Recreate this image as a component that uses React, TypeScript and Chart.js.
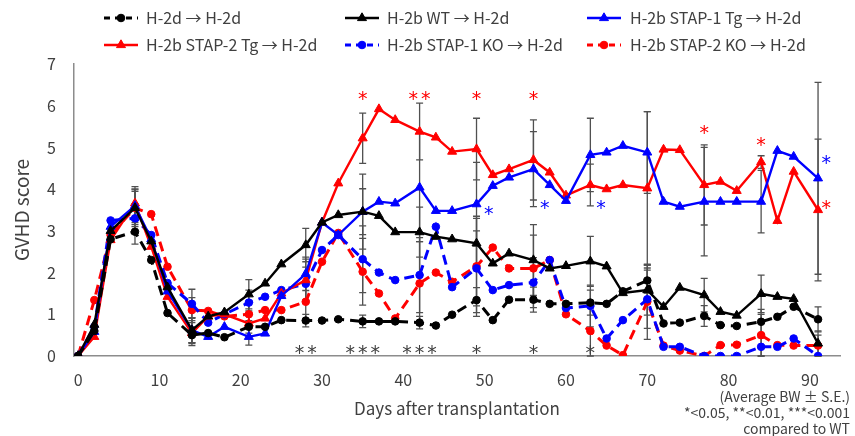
import React, { useEffect, useRef } from 'react';
import { Chart, registerables } from 'chart.js';

Chart.register(...registerables);

// ---- data ----
const DAYS = [0, 2, 4, 7, 9, 11, 14, 16, 18, 21, 23, 25, 28, 30, 32, 35, 37, 39, 42, 44, 46, 49, 51, 53, 56, 58, 60, 63, 65, 67, 70, 72, 74, 77, 79, 81, 84, 86, 88, 91];

const H2D = [0, 0.6, 2.8, 2.98, 2.3, 1.03, 0.5, 0.55, 0.45, 0.7, 0.7, 0.86, 0.85, 0.85, 0.88, 0.83, 0.83, 0.83, 0.8, 0.73, 0.99, 1.34, 0.86, 1.35, 1.35, 1.25, 1.25, 1.28, 1.25, 1.55, 1.81, 0.78, 0.8, 0.96, 0.74, 0.72, 0.82, 0.94, 1.18, 0.88];
const WT = [0, 0.75, 3.0, 3.55, 2.75, 1.65, 0.62, 0.95, 1.05, 1.48, 1.74, 2.2, 2.66, 3.2, 3.38, 3.46, 3.36, 2.97, 2.97, 2.86, 2.8, 2.7, 2.22, 2.46, 2.3, 2.1, 2.16, 2.27, 2.15, 1.51, 1.58, 1.18, 1.64, 1.46, 1.06, 0.97, 1.49, 1.42, 1.37, 0.3];
const TG1 = [0, 0.58, 3.1, 3.6, 2.8, 1.55, 0.62, 0.46, 0.7, 0.46, 0.54, 1.44, 1.97, 3.2, 2.9, 3.46, 3.7, 3.66, 4.04, 3.48, 3.48, 3.64, 4.08, 4.28, 4.48, 4.1, 3.72, 4.82, 4.88, 5.04, 4.88, 3.7, 3.58, 3.7, 3.7, 3.7, 3.7, 4.92, 4.78, 4.26];
const TG2 = [0, 0.46, 2.78, 3.66, 2.62, 1.42, 0.55, 0.95, 1.0, 0.78, 0.9, 1.5, 1.82, 3.2, 4.14, 5.22, 5.92, 5.66, 5.38, 5.24, 4.9, 4.96, 4.34, 4.48, 4.7, 4.4, 3.85, 4.1, 4.0, 4.1, 4.02, 4.95, 4.94, 4.1, 4.18, 3.96, 4.65, 3.24, 4.42, 3.5];
const KO1 = [0, 0.7, 3.25, 3.3, 2.9, 1.75, 1.25, 0.8, 1.0, 1.28, 1.42, 1.58, 1.73, 2.54, 2.9, 2.32, 2.0, 1.82, 1.94, 3.1, 1.65, 2.1, 1.58, 1.7, 1.76, 2.3, 1.15, 1.2, 0.42, 0.86, 1.36, 0.22, 0.22, 0, 0, 0, 0.22, 0.22, 0.42, 0];
const KO2 = [0, 1.34, 2.9, 3.55, 3.4, 2.14, 1.1, 1.08, 0.95, 1.0, 1.1, 1.1, 1.3, 2.26, 2.95, 2.02, 1.5, 0.9, 1.74, 2.0, 1.78, 2.15, 2.6, 2.1, 2.1, 2.3, 1.0, 0.6, 0.25, 0.02, 1.3, 0.25, 0.13, 0, 0.26, 0.27, 0.5, 0.26, 0.25, 0.25];

// standard errors at the weekly time points
const WEEK_DAYS = [7, 14, 21, 28, 35, 42, 49, 56, 63, 70, 77, 84, 91];
const H2D_SE = [0.3, 0.2, 0.15, 0.15, 0.15, 0.15, 0.3, 0.3, 0.3, 0.3, 0.25, 0.3, 0.3];
const WT_SE = [0.45, 0.3, 0.35, 0.4, 0.55, 0.6, 0.6, 0.85, 0.6, 0.6, 0.4, 0.45, 0.3];
const TG1_SE = [0.4, 0.3, 0.2, 0.4, 0.9, 1.3, 1.0, 0.9, 0.88, 0.98, 1.3, 0.75, 2.3];
const TG2_SE = [0.4, 0.3, 0.3, 0.5, 0.6, 0.68, 0.74, 0.96, 0.5, 1.84, 0.96, 0.15, 1.7];
const KO1_SE = [0.35, 0.35, 0.3, 0.4, 0.8, 0.9, 0.9, 0.6, 0.5, 0.7, 0, 0.22, 0];
const KO2_SE = [0.4, 0.3, 0.3, 0.5, 0.8, 1.0, 1.2, 0.8, 0.6, 0.9, 0, 0.5, 0.25];

const LABELS = [
  'H-2d → H-2d',
  'H-2b WT → H-2d',
  'H-2b STAP-1 Tg → H-2d',
  'H-2b STAP-2 Tg → H-2d',
  'H-2b STAP-1 KO → H-2d',
  'H-2b STAP-2 KO → H-2d',
];

// significance marks
const SIG_WT_DAYS = [28, 35, 42, 49, 56, 63];
const SIG_WT_TEXT = ['**', '***', '***', '*', '*', '*'];
const SIG_RED_DAYS = [35, 42, 49, 56, 77, 84, 92];
const SIG_RED_Y = [6.25, 6.25, 6.25, 6.25, 5.42, 5.14, 3.64];
const SIG_RED_TEXT = ['*', '**', '*', '*', '*', '*', '*'];
const SIG_BLUE_DAYS = [50.5, 57.4, 64.3, 92];
const SIG_BLUE_Y = [3.5, 3.62, 3.62, 4.7];

const X_TICKS = [0, 10, 20, 30, 40, 50, 60, 70, 80, 90];
const NOTES = ['(Average BW ± S.E.)', '*<0.05, **<0.01, ***<0.001', 'compared to WT'];

// ---- styling ----
const FONT = '"Noto Sans CJK JP", "Noto Sans", sans-serif';
const TEXT = '#404040';
const BLACK = '#000000';
const RED = 'rgb(255,0,0)';
const BLUE = 'rgb(0,0,255)';

const STYLES = [
  { color: BLACK, dashed: true, marker: 'circle' },
  { color: BLACK, dashed: false, marker: 'triangle' },
  { color: BLUE, dashed: false, marker: 'triangle' },
  { color: RED, dashed: false, marker: 'triangle' },
  { color: BLUE, dashed: true, marker: 'circle' },
  { color: RED, dashed: true, marker: 'circle' },
];
const VALUES = [H2D, WT, TG1, TG2, KO1, KO2];
const SES = [H2D_SE, WT_SE, TG1_SE, TG2_SE, KO1_SE, KO2_SE];

function drawMarker(ctx: CanvasRenderingContext2D, kind: string, x: number, y: number, color: string) {
  ctx.save();
  ctx.setLineDash([]);
  ctx.fillStyle = color;
  ctx.strokeStyle = color;
  ctx.lineWidth = 1;
  ctx.beginPath();
  if (kind === 'triangle') {
    const r = 5.2;
    let a = 0;
    ctx.moveTo(x + Math.sin(a) * r, y - Math.cos(a) * r);
    a += (2 * Math.PI) / 3;
    ctx.lineTo(x + Math.sin(a) * r, y - Math.cos(a) * r);
    a += (2 * Math.PI) / 3;
    ctx.lineTo(x + Math.sin(a) * r, y - Math.cos(a) * r);
    ctx.closePath();
  } else {
    ctx.arc(x, y, 3.8, 0, Math.PI * 2);
  }
  ctx.fill();
  ctx.stroke();
  ctx.restore();
}

const errorBarPlugin = {
  id: 'errorBars',
  beforeDatasetsDraw(chart: any) {
    const { ctx, scales } = chart;
    const x = scales.x, y = scales.y;
    ctx.save();
    ctx.strokeStyle = '#505050';
    ctx.lineWidth = 1.3;
    SES.forEach((se, s) => {
      WEEK_DAYS.forEach((d, i) => {
        const e = se[i];
        if (!e) return;
        const v = VALUES[s][DAYS.indexOf(d)];
        const px = x.getPixelForValue(d);
        const top = y.getPixelForValue(v + e);
        const bot = y.getPixelForValue(Math.max(0, v - e));
        ctx.beginPath();
        ctx.moveTo(px, top);
        ctx.lineTo(px, bot);
        ctx.moveTo(px - 3.5, top);
        ctx.lineTo(px + 3.5, top);
        ctx.moveTo(px - 3.5, bot);
        ctx.lineTo(px + 3.5, bot);
        ctx.stroke();
      });
    });
    ctx.restore();
  },
};

function drawStars(ctx: CanvasRenderingContext2D, text: string, cx: number, cy: number, color: string) {
  const size = 19;
  const gap = 12.5;
  ctx.save();
  ctx.fillStyle = color;
  ctx.font = `${size}px "DejaVu Sans", sans-serif`;
  ctx.textAlign = 'center';
  ctx.textBaseline = 'alphabetic';
  const n = text.length;
  for (let k = 0; k < n; k++) {
    const px = cx + (k - (n - 1) / 2) * gap;
    ctx.fillText(text[k], px, cy + size * 0.5);
  }
  ctx.restore();
}

const annotationPlugin = {
  id: 'annotations',
  afterDatasetsDraw(chart: any) {
    const { ctx, scales } = chart;
    const x = scales.x, y = scales.y;
    SIG_WT_DAYS.forEach((d, i) => drawStars(ctx, SIG_WT_TEXT[i], x.getPixelForValue(d), y.getPixelForValue(0.15), '#404040'));
    SIG_RED_DAYS.forEach((d, i) => drawStars(ctx, SIG_RED_TEXT[i], x.getPixelForValue(d), y.getPixelForValue(SIG_RED_Y[i]), RED));
    SIG_BLUE_DAYS.forEach((d, i) => drawStars(ctx, '*', x.getPixelForValue(d), y.getPixelForValue(SIG_BLUE_Y[i]), BLUE));
  },
  afterDraw(chart: any) {
    const ctx = chart.ctx as CanvasRenderingContext2D;
    // notes
    ctx.save();
    ctx.fillStyle = TEXT;
    ctx.font = `14px ${FONT}`;
    ctx.textAlign = 'right';
    ctx.textBaseline = 'middle';
    const ny = [397, 413, 429];
    NOTES.forEach((t, i) => ctx.fillText(t, 850, ny[i]));
    ctx.restore();
    // legend
    const colX = [121, 362, 604];
    const textX = [146, 387, 630];
    const rowY = [18, 45];
    chart.data.datasets.forEach((ds: any, i: number) => {
      const col = i % 3, row = Math.floor(i / 3);
      const cx = colX[col], cy = rowY[row];
      const st = STYLES[i];
      ctx.save();
      ctx.strokeStyle = st.color;
      ctx.lineWidth = st.dashed ? 3 : 2.5;
      ctx.setLineDash(st.dashed ? [6, 5] : []);
      ctx.beginPath();
      ctx.moveTo(cx - 17, cy);
      ctx.lineTo(cx + 17, cy);
      ctx.stroke();
      ctx.restore();
      drawMarker(ctx, st.marker, cx, cy, st.color);
      ctx.save();
      ctx.fillStyle = TEXT;
      ctx.font = `16px ${FONT}`;
      ctx.textAlign = 'left';
      ctx.textBaseline = 'middle';
      ctx.fillText(ds.label, textX[col], cy);
      ctx.restore();
    });
  },
};

export default function App() {
  const ref = useRef<HTMLCanvasElement | null>(null);

  useEffect(() => {
    document.body.style.margin = '0';
    const canvas = ref.current;
    if (!canvas) return;

    const datasets = LABELS.map((label, i) => {
      const st = STYLES[i];
      return {
        label,
        data: DAYS.map((d, k) => ({ x: d, y: VALUES[i][k] })),
        borderColor: st.color,
        backgroundColor: st.color,
        borderWidth: st.dashed ? 3 : 2.4,
        borderDash: st.dashed ? [10, 6] : [],
        pointStyle: st.marker,
        pointRadius: st.marker === 'triangle' ? 5.2 : 3.8,
        pointBorderWidth: 1,
        pointBorderColor: st.color,
        pointBackgroundColor: st.color,
        tension: 0,
        fill: false,
      };
    });

    const chart = new Chart(canvas, {
      type: 'line',
      data: { datasets },
      plugins: [errorBarPlugin, annotationPlugin],
      options: {
        animation: false,
        responsive: false,
        devicePixelRatio: 1,
        layout: { padding: { top: 64, right: 15, left: 0, bottom: 0 } },
        plugins: { legend: { display: false }, tooltip: { enabled: false } },
        scales: {
          x: {
            type: 'linear',
            min: -0.5,
            max: 93.7,
            afterFit: (s: any) => { s.height = 80; },
            afterBuildTicks: (s: any) => { s.ticks = X_TICKS.map((v) => ({ value: v })); },
            grid: { display: true, drawOnChartArea: false, drawTicks: false },
            border: { display: true, color: '#8c8c8c', width: 1.5 },
            ticks: { color: TEXT, font: { family: FONT, size: 16 }, padding: 14, autoSkip: false, maxRotation: 0 },
            title: { display: true, text: 'Days after transplantation', color: TEXT, font: { family: FONT, size: 17 }, padding: { top: 0, bottom: 17 } },
          },
          y: {
            min: 0,
            max: 7,
            afterFit: (s: any) => { s.width = 74; },
            grid: { display: true, drawOnChartArea: false, drawTicks: false },
            border: { display: true, color: '#8c8c8c', width: 1.5 },
            ticks: { stepSize: 1, color: TEXT, font: { family: FONT, size: 16 }, padding: 18 },
            title: { display: true, text: 'GVHD score', color: TEXT, font: { family: FONT, size: 19 }, padding: { top: 10, bottom: 0 } },
          },
        },
      },
    } as any);

    return () => chart.destroy();
  }, []);

  return (
    <div style={{ position: 'relative', width: 855, height: 436, overflow: 'hidden', background: '#fff' }}>
      <canvas ref={ref} width={855} height={436} style={{ display: 'block' }} />
    </div>
  );
}
